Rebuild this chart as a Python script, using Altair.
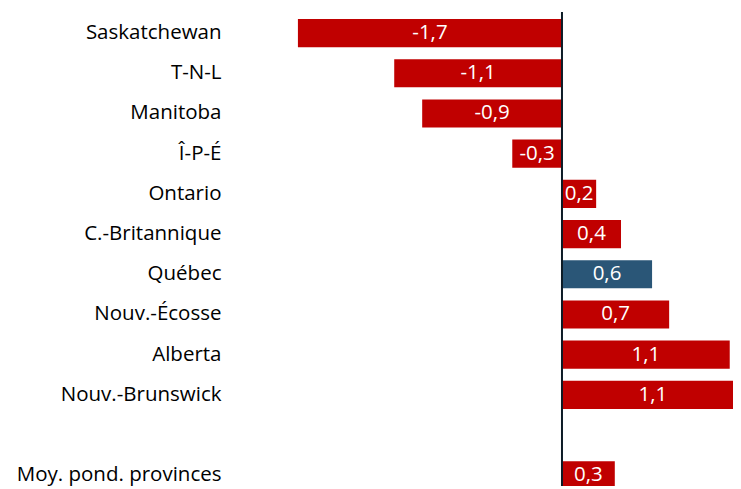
import altair as alt
import pandas as pd

categories = ["Saskatchewan", "T-N-L", "Manitoba", "Î-P-É", "Ontario",
              "C.-Britannique", "Québec", "Nouv.-Écosse", "Alberta",
              "Nouv.-Brunswick", " ", "Moy. pond. provinces"]
bar_categories = ["Saskatchewan", "T-N-L", "Manitoba", "Î-P-É", "Ontario",
                  "C.-Britannique", "Québec", "Nouv.-Écosse", "Alberta",
                  "Nouv.-Brunswick", "Moy. pond. provinces"]
values = [-1.70, -1.08, -0.90, -0.32, 0.22, 0.38, 0.58, 0.69, 1.08, 1.17, 0.34]
labels = ["-1,7", "-1,1", "-0,9", "-0,3", "0,2", "0,4", "0,6", "0,7", "1,1", "1,1", "0,3"]
highlight = ["Québec"]

df = pd.DataFrame({"cat": bar_categories, "val": values, "lab": labels})
df["hl"] = df["cat"].isin(highlight).map({True: "q", False: "o"})
df["mid"] = df["val"] / 2

FONT = "Open Sans"
H = 478
W = 443
STEP = 40.2
TOP = 11

xscale = alt.Scale(domain=[-1.751, 1.101], nice=False, zero=False)
yscale = alt.Scale(domain=categories, range=[TOP, TOP + STEP * (12 - 0.3)],
                   paddingInner=0.3, paddingOuter=0)

base = alt.Chart(df)

bars = base.mark_bar(clip=True).encode(
    x=alt.X("val:Q", scale=xscale, axis=None),
    y=alt.Y("cat:N", scale=yscale, sort=categories, title=None,
            axis=alt.Axis(domain=False, ticks=False, labelFontSize=20.5,
                          labelFont=FONT, labelColor="#000000",
                          labelPadding=69, labelLimit=300)),
    color=alt.Color("hl:N", scale=alt.Scale(domain=["o", "q"], range=["#c00000", "#2a5677"]),
                    legend=None),
)

text = base.mark_text(color="white", font=FONT, fontSize=20.5, baseline="middle",
                      align="center", clip=True).encode(
    x=alt.X("mid:Q", scale=xscale),
    y=alt.Y("cat:N", scale=yscale, sort=categories),
    text="lab:N",
)

rule = alt.Chart(pd.DataFrame({"z": [0]})).mark_rule(color="#0d1b26", strokeWidth=2).encode(
    x=alt.X("z:Q", scale=xscale),
    y=alt.value(4),
    y2=alt.value(H),
)

chart = alt.layer(bars, rule, text).properties(
    width=W, height=H,
    autosize=alt.AutoSizeParams(type="none"),
    padding={"left": 282, "top": 0, "right": 0, "bottom": 0},
).configure_view(stroke=None)

chart.save("out.html", embed_options={"renderer": "svg", "actions": False})
